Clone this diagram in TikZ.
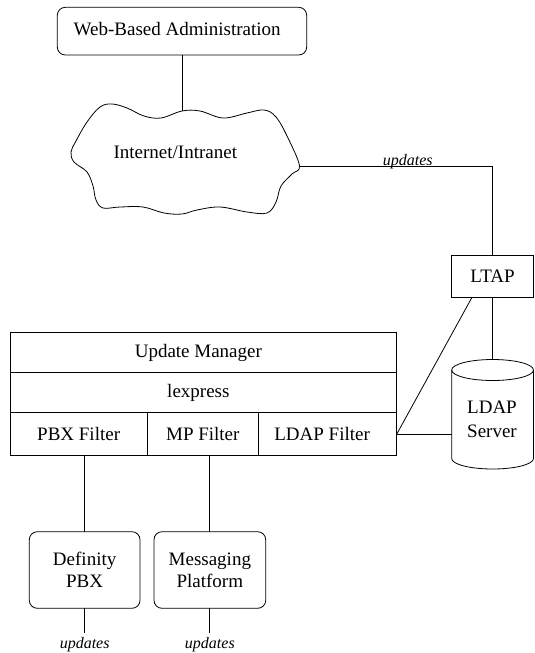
\documentclass[tikz,border=0pt]{standalone}
\usepackage{fontspec}
\setmainfont{Liberation Serif}
\usetikzlibrary{calc}
\begin{document}
\begin{tikzpicture}[x=1pt,y=-1pt, line width=0.8pt,
  every node/.style={inner sep=0pt, outer sep=0pt, font=\fontsize{19}{21.6}\selectfont},
  box/.style={draw, rectangle},
  rbox/.style={draw, rounded corners=8pt, align=center},
  cell/.style={draw, rectangle, anchor=north west},
  lbl/.style={font=\itshape\fontsize{16}{18}\selectfont, anchor=base}]
\useasboundingbox (0,0) rectangle (535,653);

% Web-based administration
\node[rbox, minimum width=249.4pt, minimum height=47.7pt,
  label={[xshift=-4.8pt,yshift=2.3pt]center:Web-Based Administration}] (web) at (182,31.15) {};

% cloud
\draw plot[smooth cycle, tension=0.6] coordinates {
 (100,107) (112,104) (127,108) (144,116) (161,118) (182,111) (200,111)
 (223,118) (247,113) (264,110) (276,117) (288,138) (299.5,166)
 (292,174) (281,186) (276,202) (267,213) (247,212) (220,207) (197,210)
 (182,214) (164,213) (143,207) (120,207) (103,208) (96,200) (93,186)
 (87,172) (74,162) (71,152) (76,141) (87,122)};
\node (inet) at (175.3,152.8) {Internet/Intranet};
\coordinate (ctop) at (182,111);
\coordinate (ctip) at (299.5,166);

% LTAP
\node[box, minimum width=81.8pt, minimum height=42pt] (ltap) at (492.6,276) {LTAP};

% stack
\node[cell, minimum width=386.7pt, minimum height=40pt,
  label={[xshift=-5pt]center:Update Manager}] (um) at (10,332.7) {};
\node[cell, minimum width=386.7pt, minimum height=40pt,
  label={[xshift=-5pt]center:lexpress}] (lex) at (um.south west) {};
\node[cell, minimum width=137.3pt, minimum height=43pt] (pbxf) at (lex.south west) {PBX Filter};
\node[cell, minimum width=111pt, minimum height=43pt] (mpf) at (pbxf.north east) {MP Filter};
\node[cell, minimum width=138.4pt, minimum height=43pt,
  label={[xshift=-5.4pt]center:LDAP Filter}] (ldapf) at (mpf.north east) {};

% LDAP server cylinder
\draw (451.7,370) -- (451.7,458.5) arc[start angle=180,end angle=360,x radius=40.9pt,y radius=10.5pt] -- (533.5,370);
\draw (492.6,370) ellipse [x radius=40.9pt,y radius=10.5pt];
\node[align=center, font=\fontsize{19}{23.7}\selectfont] (ldap) at (492,419.4) {LDAP\\Server};
\coordinate (cyltop) at (492.6,359.5);
\coordinate (cylleft) at (451.7,434.2);

% bottom boxes
\node[rbox, minimum width=110.7pt, minimum height=76.6pt] (def) at (84.65,570) {Definity\\PBX};
\node[rbox, minimum width=111.7pt, minimum height=76.6pt] (msg) at (209.85,570) {Messaging\\Platform};

% connectors
\draw (web.south) -- (web.south |- ctop);
\draw (ctip) -- node[lbl, pos=0.561, yshift=1pt] (ulab) {updates} (ctip -| ltap.north) -- (ltap.north);
\draw (ltap.south) -- (cyltop);
\draw ($(ltap.south west)!0.25!(ltap.south east)$) -- (ldapf.east);
\draw (ldapf.east) -- (cylleft);
\draw (def.north) -- (def.north |- pbxf.south);
\draw (msg.north) -- (msg.north |- mpf.south);
\coordinate (dend) at (84.65,633);
\coordinate (mend) at (209.85,633);
\draw (def.south) -- (dend);
\draw (msg.south) -- (mend);
\node[lbl] (dlab) at (84.65,648.3) {updates};
\node[lbl] (mlab) at (209.85,648.3) {updates};
\end{tikzpicture}
\end{document}
